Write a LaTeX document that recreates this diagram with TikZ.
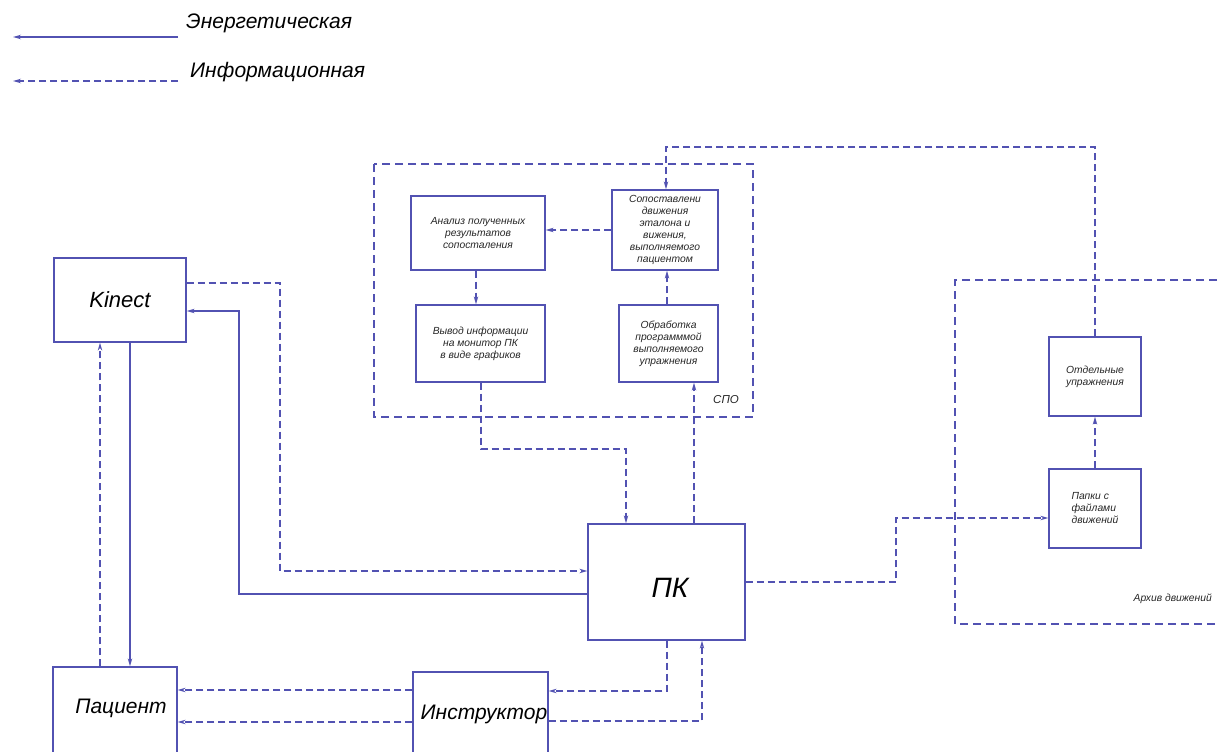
\documentclass[tikz,border=0pt]{standalone}
\usepackage{fontspec}
\setmainfont{Liberation Sans}
\usetikzlibrary{arrows.meta}
\definecolor{lc}{RGB}{82,82,178}
\begin{document}
\begin{tikzpicture}[x=1pt,y=-1pt,
  box/.style={draw=lc, line width=1.3pt, inner sep=0pt, align=center, text=black!85,
    font=\fontsize{10.3}{12}\selectfont\itshape},
  energy/.style={draw=lc, line width=1.3pt},
  info/.style={draw=lc, line width=1.3pt, dash pattern=on 7pt off 4pt},
  frame/.style={draw=lc, line width=1.3pt, dash pattern=on 8pt off 5pt},
  arr/.style={-{Stealth[open,length=8pt,width=4.5pt,line width=1pt]}},
  big/.style={font=\fontsize{21}{25}\selectfont\itshape, text=black},
  small/.style={font=\fontsize{10.3}{12}\selectfont\itshape, text=black!85}
]
\useasboundingbox (0,0) rectangle (1219,752);

% legend
\coordinate (lgAa) at (178,37);
\coordinate (lgAb) at (13,37);
\coordinate (lgBa) at (178,81);
\coordinate (lgBb) at (13,81);
\draw[energy,arr] (lgAa) -- (lgAb);
\draw[info,arr] (lgBa) -- (lgBb);
\node[big, anchor=west, inner sep=0pt] (lgAt) at (186,23) {Энергетическая};
\node[big, anchor=west, inner sep=0pt] (lgBt) at (190,72) {Информационная};

% frames
\draw[frame] (374,164) rectangle (753,417);
\node[small, font=\fontsize{11.5}{13}\selectfont\itshape] (spo) at (726,400) {СПО};
\draw[frame] (1230,280) -- (955,280) -- (955,624) -- (1230,624);
\node[small, anchor=east, inner sep=0pt] (arch) at (1212,599) {Архив движений};

% boxes
\node[box, minimum width=132pt, minimum height=84pt] (kin) at (120,300) {};
\node[big, font=\fontsize{22}{26}\selectfont\itshape, inner sep=0pt] (kint) at (120,300) {Kinect};
\node[box, minimum width=157pt, minimum height=116pt] (pk) at (666.5,582) {};
\node[big, font=\fontsize{28}{32}\selectfont\itshape, inner sep=0pt] (pkt) at (670,588) {ПК};
\node[box, minimum width=124pt, minimum height=110pt] (pac) at (115,722) {};
\node[big, inner sep=0pt] (pact) at (121,708) {Пациент};
\node[box, minimum width=135pt, minimum height=110pt] (ins) at (480.5,727) {};
\node[big, inner sep=0pt] (inst) at (484,714) {Инструктор};

\node[box, minimum width=134pt, minimum height=74pt] (anal) at (478,233)
  {Анализ полученных\\результатов\\сопосталения};
\node[box, minimum width=106pt, minimum height=80pt] (sop) at (665,230)
  {Сопоставлени\\движения\\эталона и\\вижения,\\выполняемого\\пациентом};
\node[box, minimum width=129pt, minimum height=77pt] (vyv) at (480.5,343.5)
  {Вывод информации\\на монитор ПК\\в виде графиков};
\node[box, minimum width=99pt, minimum height=77pt] (obr) at (668.5,343.5)
  {Обработка\\программмой\\выполняемого\\упражнения};
\node[box, minimum width=92pt, minimum height=79pt] (otd) at (1095,376.5)
  {Отдельные\\упражнения};
\node[box, minimum width=92pt, minimum height=79pt, align=left] (pap) at (1095,508.5)
  {Папки с\\файлами\\движений};

% connectors
\draw[info,arr] (kin.east |- 0,283) -| (280,571) -- (pk.west |- 0,571);
\draw[energy,arr] (pk.west |- 0,594) -| (239,311) -- (kin.east |- 0,311);
\draw[energy,arr] (kin.south -| 130,0) -- (pac.north -| 130,0);
\draw[info,arr] (pac.north -| 100,0) -- (kin.south -| 100,0);
\draw[info,arr] (vyv.south -| 481,0) |- (626,449) -- (pk.north -| 626,0);
\draw[info,arr] (pk.north -| 694,0) -- (obr.south -| 694,0);
\draw[info,arr] (obr.north -| 667,0) -- (sop.south -| 667,0);
\draw[info,arr] (sop.west) -- (anal.east |- sop.west);
\draw[info,arr] (anal.south -| 476,0) -- (vyv.north -| 476,0);
\draw[info,arr] (otd.north) |- (666,147) -- (sop.north -| 666,0);
\draw[info,arr] (pap.north) -- (otd.south);
\draw[info,arr] (pk.east |- 0,582) -| (896,518) -- (pap.west |- 0,518);
\draw[info,arr] (pk.south -| 667,0) |- (ins.east |- 0,691);
\draw[info,arr] (ins.east |- 0,721) -| (pk.south -| 702,0);
\draw[info,arr] (ins.west |- 0,690) -- (pac.east |- 0,690);
\draw[info,arr] (ins.west |- 0,722) -- (pac.east |- 0,722);
\end{tikzpicture}
\end{document}
